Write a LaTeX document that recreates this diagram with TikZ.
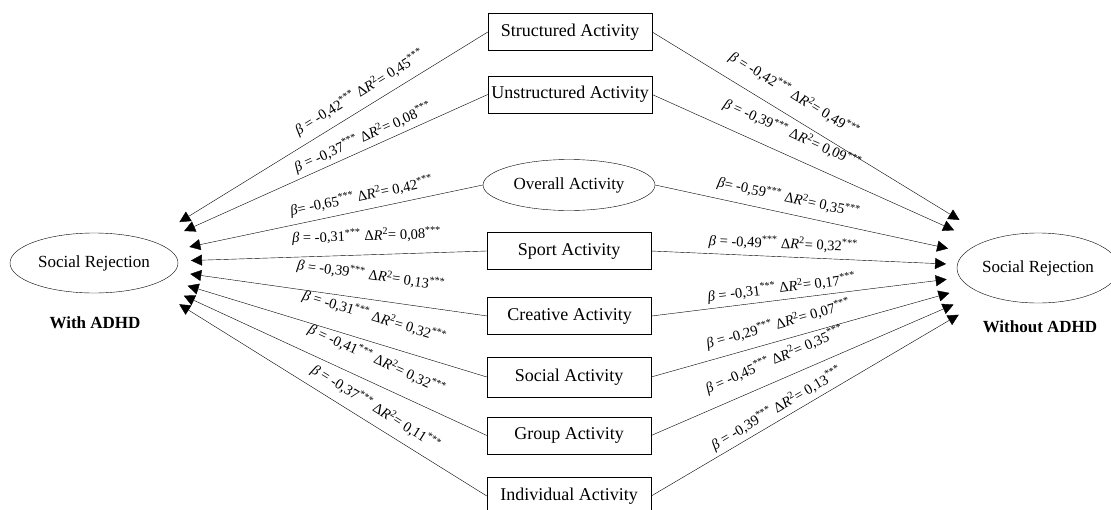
\documentclass[tikz,border=0pt]{standalone}
\usepackage{fontspec}
\setmainfont{Liberation Serif}
\usetikzlibrary{arrows.meta,shapes.geometric}

% beta and Delta R^2 label
\newcommand{\stat}[3]{\textit{β}#1 -#2\textsuperscript{***} Δ\textit{R}\textsuperscript{2}= #3\textsuperscript{***}}

\tikzset{
  actbox/.style={draw, thin, minimum width=164pt, minimum height=37pt, inner xsep=3pt, font=\fontsize{18}{21}\selectfont},
  actoval/.style={draw, thin, ellipse, inner sep=0pt, font=\fontsize{17}{20}\selectfont},
  effect/.style={draw, thin, -{Triangle[length=11pt,width=11pt]}},
  coef/.style={sloped, above=3pt, inner sep=1pt, font=\fontsize{14.5}{16}\selectfont},
}

\begin{document}
\begin{tikzpicture}[x=1pt, y=-1pt]
\path[use as bounding box] (0,0) rectangle (1111,509);
\clip (0,0) rectangle (1111,509);

% activities
\node[actbox] (str) at (570,32) {Structured Activity};
\node[actbox] (unstr) at (570,94.5) {Unstructured Activity};
\node[actoval, minimum width=172pt, minimum height=51pt] (ovr) at (569,185) {Overall Activity};
\node[actbox] (sport) at (569,251) {Sport Activity};
\node[actbox] (creat) at (569.5,316) {Creative Activity};
\node[actbox, minimum height=40pt] (soc) at (569,377) {Social Activity};
\node[actbox] (grp) at (569,435.5) {Group Activity};
\node[actbox] (ind) at (569,496) {Individual Activity};

% outcomes
\node[actoval, minimum width=168pt, minimum height=60pt] (lrej) at (94,263) {Social Rejection};
\node[font=\bfseries\fontsize{17}{20}\selectfont] (lgrp) at (95,323) {With ADHD};
\node[actoval, minimum width=162pt, minimum height=70pt] (rrej) at (1038,268) {Social Rejection};
\node[font=\bfseries\fontsize{17}{20}\selectfont] (rgrp) at (1040,327) {Without ADHD};
\coordinate (lfoc) at ([xshift=19pt]lrej.center);

% with ADHD
\begin{scope}[every path/.append style={shorten >=78pt}]
\draw[effect] (str.west) -- node[coef, pos=0.32, above=4pt] {\stat{ =}{0,42}{0,45}} (lfoc);
\draw[effect] (unstr.west) -- node[coef, pos=0.32, above=0pt] {\stat{ =}{0,37}{0,08}} (lfoc);
\draw[effect] (ovr.west) -- node[coef, pos=0.32, above=2pt] {\stat{=}{0,65}{0,42}} (lfoc);
\draw[effect] (sport.west) -- node[coef, pos=0.32, above=7pt] {\stat{ =}{0,31}{0,08}} (lfoc);
\draw[effect] (creat.west) -- node[coef, pos=0.32, above=12pt] {\stat{ =}{0,39}{0,13}} (lfoc);
\draw[effect] (soc.west) -- node[coef, pos=0.32, above=13pt] {\stat{ =}{0,31}{0,32}} (lfoc);
\draw[effect] (grp.west) -- node[coef, pos=0.32, above=11pt] {\stat{ =}{0,41}{0,32}} (lfoc);
\draw[effect] (ind.west) -- node[coef, pos=0.32, above=4.5pt] {\stat{ =}{0,37}{0,11}} (lfoc);
\end{scope}

% without ADHD
\begin{scope}[every path/.append style={shorten >=92pt}]
\draw[effect] (str.east) -- node[coef, pos=0.34, above=9pt] {\stat{ =}{0,42}{0,49}} (rrej.center);
\draw[effect] (unstr.east) -- node[coef, pos=0.34, above=10pt] {\stat{ =}{0,39}{0,09}} (rrej.center);
\draw[effect] (ovr.east) -- node[coef, pos=0.34, above=4pt] {\stat{=}{0,59}{0,35}} (rrej.center);
\draw[effect] (sport.east) -- node[coef, pos=0.34, above=1pt] {\stat{ =}{0,49}{0,32}} (rrej.center);
\draw[effect] (creat.east) -- node[coef, pos=0.34, above=0pt] {\stat{ =}{0,31}{0,17}} (rrej.center);
\draw[effect] (soc.east) -- node[coef, pos=0.34, above=4.5pt] {\stat{ =}{0,29}{0,07}} (rrej.center);
\draw[effect] (grp.east) -- node[coef, pos=0.34, above=8.5pt] {\stat{ =}{0,45}{0,35}} (rrej.center);
\draw[effect] (ind.east) -- node[coef, pos=0.34, above=0pt] {\stat{ =}{0,39}{0,13}} (rrej.center);
\end{scope}
\end{tikzpicture}
\end{document}
